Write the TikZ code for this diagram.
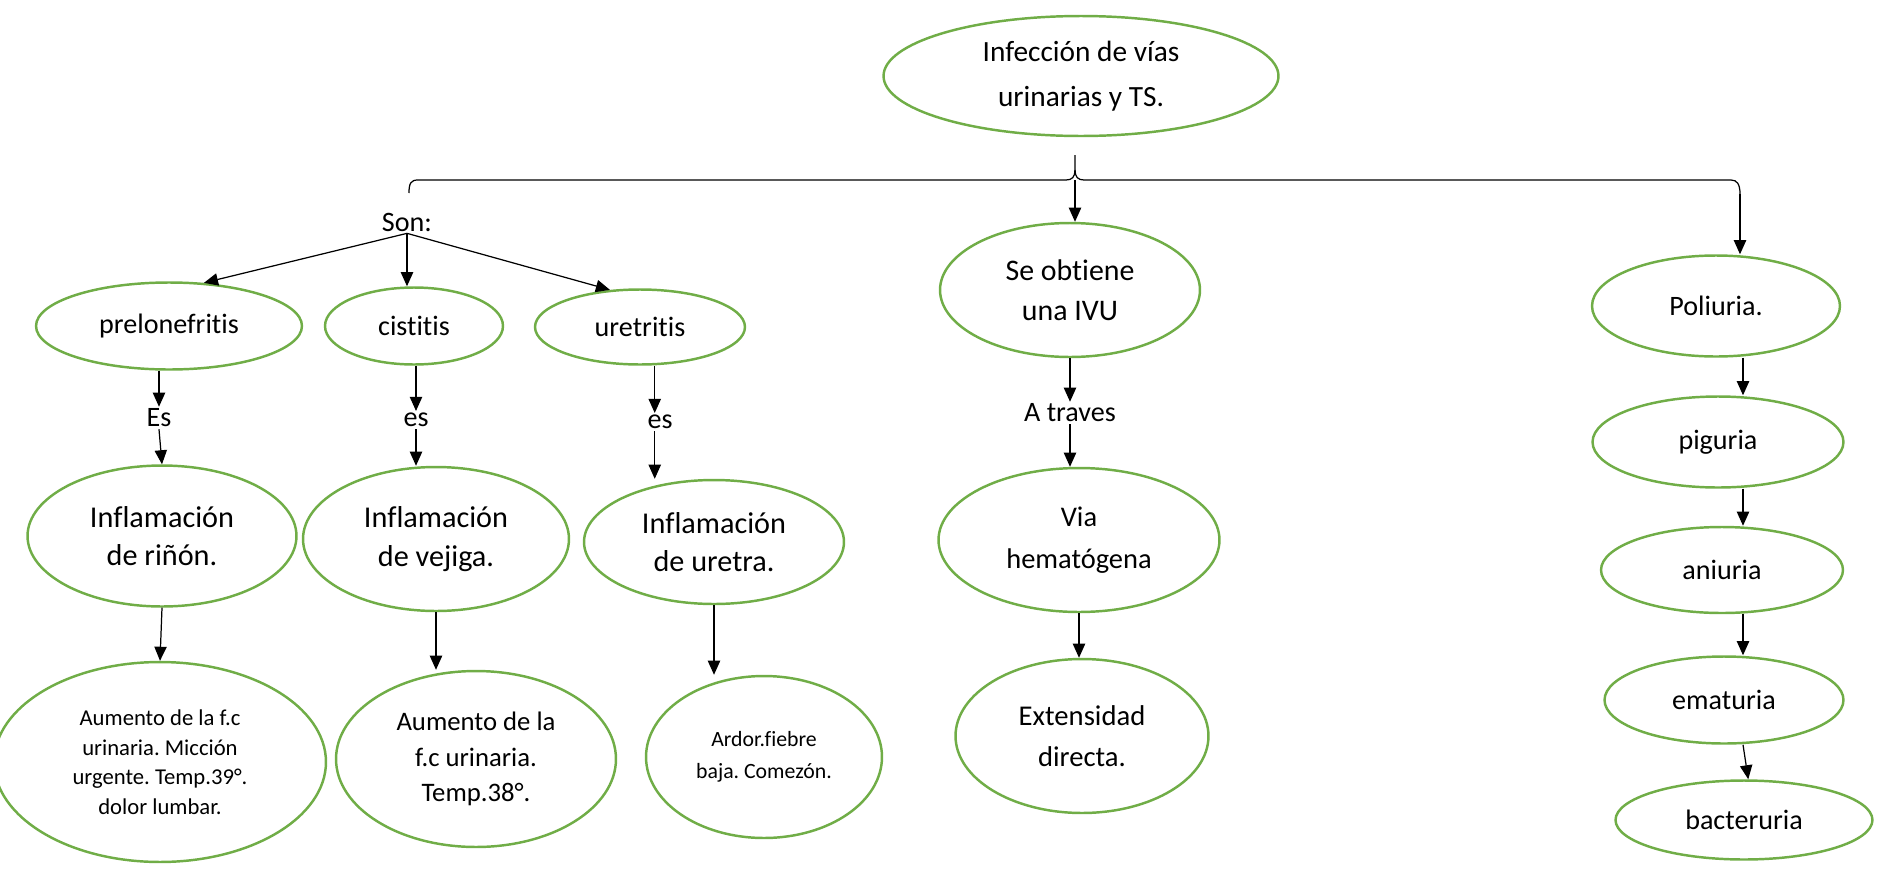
\documentclass[tikz,border=0pt]{standalone}
\usepackage{fontspec}
\setmainfont{Carlito}[Ligatures={NoCommon}]
\usetikzlibrary{shapes.geometric}
\usetikzlibrary{arrows.meta}
\definecolor{ellgreen}{RGB}{112,173,71}
\frenchspacing
% ellipses, small labels and arrows
\tikzset{
	oval/.style={ellipse, draw=ellgreen, line width=1.4pt, align=center, inner sep=0pt, font=\fontsize{16}{22}\selectfont},
	lbl/.style={inner sep=1pt, font=\fontsize{16}{22}\selectfont},
	arr/.style={-{Triangle[length=8pt,width=7pt]}, line width=0.7pt}
}

\begin{document}
\begin{tikzpicture}[x=0.02cm, y=-0.02cm]
	% page: 1877 x 869 px
	\useasboundingbox (0,0) rectangle (1877,869);
	
	% top
	\node[oval, minimum width=7.9cm, minimum height=2.4cm, font=\fontsize{16.7}{25.5}\selectfont] (infec) at (1081,76) {Infección de vías\\urinarias y TS.};
	
	% brace
	\draw[line width=0.7pt] (409,193) .. controls (409,183) and (411,180) .. (418,180) -- (1066,180)
		.. controls (1072,180) and (1075,177) .. (1075,170) -- (1075,155);
	\draw[line width=0.7pt] (1075,170) .. controls (1075,177) and (1078,180) .. (1084,180) -- (1731,180)
		.. controls (1737,180) and (1740,184) .. (1740,194);
	\coordinate (bmid) at (1075,180);
	\coordinate (bright) at (1740,194);
	\coordinate (rcol) at (1743,0);
	
	% left branch
	\node[lbl] (son) at (407,222) {Son:};
	\node[oval, minimum width=5.32cm, minimum height=1.74cm] (prel) at (169,326) {prelonefritis};
	\node[oval, minimum width=3.56cm, minimum height=1.54cm] (cist) at (414,326) {cistitis};
	\node[oval, minimum width=4.2cm, minimum height=1.5cm] (uret) at (640,327) {uretritis};
	
	\node[lbl] (es1) at (159,418) {Es};
	\node[lbl] (es2) at (416,420) {es};
	\node[lbl] (es3) at (660,422) {es};
	
	\node[oval, minimum width=5.38cm, minimum height=2.82cm, font=\fontsize{17.2}{22}\selectfont] (rinon) at (162,536) {Inflamación\\de riñón.};
	\node[oval, minimum width=5.32cm, minimum height=2.88cm, font=\fontsize{17.2}{22}\selectfont] (vejiga) at (436,539) {Inflamación\\de vejiga.};
	\node[oval, minimum width=5.2cm, minimum height=2.48cm, font=\fontsize{17.2}{22}\selectfont] (uretra) at (714,542) {Inflamación\\de uretra.};
	
	\node[oval, minimum width=6.64cm, minimum height=4cm, font=\fontsize{12.9}{16.8}\selectfont] (sint1) at (160,762) {Aumento de la f.c\\urinaria. Micción\\urgente. Temp.39°.\\dolor lumbar.};
	\node[oval, minimum width=5.6cm, minimum height=3.52cm, font=\fontsize{15.2}{20}\selectfont] (sint2) at (476,759) {Aumento de la\\f.c urinaria.\\Temp.38°.};
	\node[oval, minimum width=4.72cm, minimum height=3.24cm, font=\fontsize{12.4}{18}\selectfont] (sint3) at (764,757) {Ardor.fiebre\\baja. Comezón.};
	
	% middle branch
	\node[oval, minimum width=5.2cm, minimum height=2.68cm, font=\fontsize{17}{23}\selectfont] (ivu) at (1070,290) {Se obtiene\\una IVU};
	\node[lbl] (atraves) at (1070,413) {A traves};
	\node[oval, minimum width=5.62cm, minimum height=2.88cm, font=\fontsize{16.2}{24}\selectfont] (hemat) at (1079,540) {Via\\hematógena};
	\node[oval, minimum width=5.06cm, minimum height=3.08cm, font=\fontsize{16.3}{23}\selectfont] (exten) at (1082,736) {Extensidad\\directa.};
	
	% right branch
	\node[oval, minimum width=4.96cm, minimum height=2.02cm] (poli) at (1716,306) {Poliuria.};
	\node[oval, minimum width=5.02cm, minimum height=1.82cm] (pigu) at (1718,442) {piguria};
	\node[oval, minimum width=4.84cm, minimum height=1.72cm] (aniu) at (1722,570) {aniuria};
	\node[oval, minimum width=4.78cm, minimum height=1.74cm] (ematu) at (1724,700) {ematuria};
	\node[oval, minimum width=5.14cm, minimum height=1.58cm] (bact) at (1744,820) {bacteruria};
	
	% arrows
	\draw[arr] (bmid) -- (bmid |- ivu.north);
	\draw[arr] (bright) -- (bright |- poli.north);
	
	\draw[arr] (son.south) -- (prel.51);
	\draw[arr] (son.south) -- (son.south |- cist.north);
	\draw[arr] (son.south) -- (uret.129);
	
	\draw[arr] (prel.south -| es1.north) -- (es1.north);
	\draw[arr] (es1.south) -- (rinon.north);
	\draw[arr] (cist.south -| es2.north) -- (es2.north);
	\draw[arr] (es2.south) -- (es2.south |- vejiga.north);
	\draw[arr] ([xshift=-3pt]es3.north |- uret.south) -- ([xshift=-3pt]es3.north);
	\draw[arr] ([xshift=-3pt]es3.south) -- ([xshift=-3pt]es3.south |- uretra.north);
	
	\draw[arr] (rinon.south) -- (sint1.north);
	\draw[arr] (vejiga.south) -- (vejiga.south |- sint2.north);
	\draw[arr] (uretra.south) -- (uretra.south |- sint3.north);
	
	\draw[arr] (ivu.south) -- (atraves.north);
	\draw[arr] (atraves.south) -- (atraves.south |- hemat.north);
	\draw[arr] (hemat.south) -- (hemat.south |- exten.north);
	
	\draw[arr] (poli.south -| rcol) -- (pigu.north -| rcol);
	\draw[arr] (pigu.south -| rcol) -- (aniu.north -| rcol);
	\draw[arr] (aniu.south -| rcol) -- (ematu.north -| rcol);
	\draw[arr] (ematu.south -| rcol) -- ([xshift=3pt]bact.north -| rcol);
	
\end{tikzpicture}
\end{document}
